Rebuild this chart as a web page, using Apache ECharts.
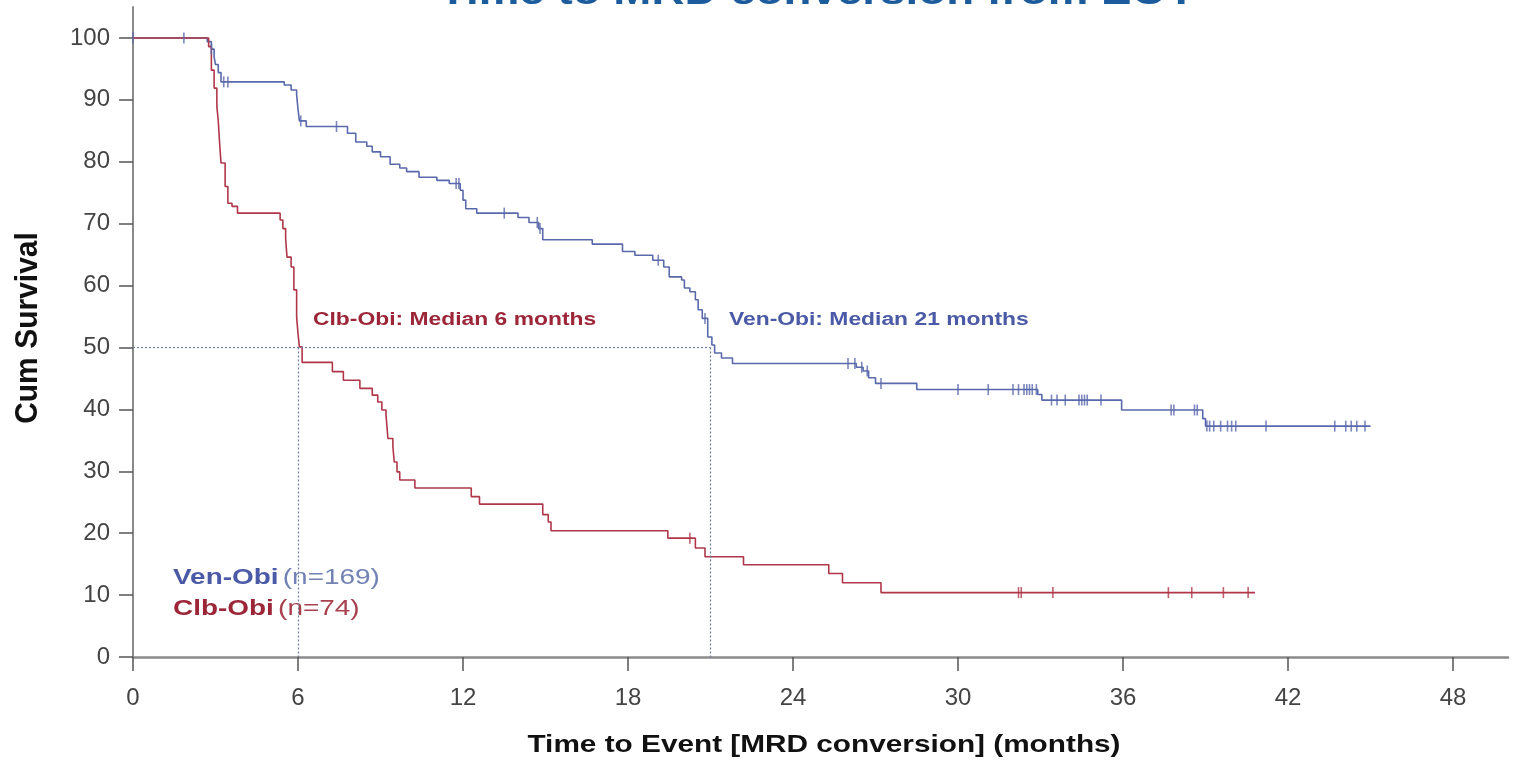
<!DOCTYPE html>
<html>
<head>
<meta charset="utf-8">
<script src="https://cdn.jsdelivr.net/npm/echarts@6/dist/echarts.min.js"></script>
<style>
  html, body { margin: 0; padding: 0; background: #ffffff; }
  #chart { width: 1515px; height: 768px; }
</style>
</head>
<body>
<div id="chart"></div>
<script>
// Kaplan-Meier steps: [month, cumulative survival %] (value holds from that month on)
const venSteps = [
  [0, 100], [2.7, 99.4], [2.85, 98.2], [2.95, 96.9], [3.0, 95.7], [3.1, 94.4], [3.2, 92.9],
  [5.5, 92.4], [5.75, 91.6], [5.95, 90.8], [6.0, 88.5], [6.05, 86.6], [6.3, 85.7],
  [7.8, 84.6], [8.1, 83.2], [8.5, 82.5], [8.7, 81.6], [9.0, 80.8], [9.35, 79.6], [9.7, 79.0],
  [9.95, 78.4], [10.4, 77.5], [11.05, 77.0], [11.5, 76.5], [11.9, 75.4], [12.0, 73.8],
  [12.1, 72.4], [12.5, 71.7], [14.0, 71.0], [14.4, 70.2], [14.75, 69.2], [14.9, 67.4],
  [16.7, 66.7], [17.8, 65.5], [18.25, 64.9], [18.9, 64.1], [19.3, 63.0], [19.5, 61.4],
  [19.95, 60.9], [20.05, 59.6], [20.25, 59.0], [20.45, 57.7], [20.55, 56.1], [20.7, 54.7],
  [20.9, 51.7], [21.05, 50.4], [21.15, 49.1], [21.4, 48.3], [21.8, 47.4],
  [26.3, 46.8], [26.55, 46.2], [26.75, 45.1], [27.0, 44.2], [28.5, 43.2],
  [32.9, 42.4], [33.05, 41.5], [35.95, 39.9], [38.9, 38.5], [39.0, 37.3], [45.0, 37.3]
];
const clbSteps = [
  [0, 100], [2.75, 98.6], [2.85, 94.8], [2.95, 91.9], [3.05, 88.9], [3.1, 86.6], [3.15, 83.0],
  [3.2, 79.8], [3.35, 76.0], [3.45, 73.3], [3.6, 72.8], [3.8, 71.7],
  [5.35, 70.6], [5.45, 69.2], [5.55, 67.6], [5.6, 64.6], [5.75, 63.0], [5.85, 59.3],
  [5.95, 54.9], [6.0, 52.3], [6.05, 50.1], [6.15, 47.6],
  [7.25, 46.1], [7.65, 44.7], [8.25, 43.4], [8.7, 42.3], [8.9, 41.2], [9.05, 39.9],
  [9.2, 39.1], [9.27, 35.3], [9.45, 34.0], [9.5, 31.5], [9.6, 29.9], [9.7, 28.6],
  [10.25, 27.3], [12.3, 25.9], [12.6, 24.7], [14.9, 23.0], [15.1, 21.8], [15.2, 20.4],
  [19.45, 19.2], [20.45, 17.6], [20.8, 16.2], [22.2, 14.9], [25.3, 13.5], [25.8, 12.0],
  [27.2, 10.4], [40.8, 10.4]
];

// Censoring times (months)
const venCensored = [
  0, 1.85, 2.85, 3.3, 3.45, 6.1, 7.4, 11.75, 11.85, 13.5, 14.7, 14.8, 19.1, 20.8,
  26.0, 26.25, 26.5, 26.7, 27.2, 30.0, 31.1, 32.0, 32.2, 32.4, 32.5, 32.6, 32.7, 32.85,
  33.4, 33.6, 33.9, 34.4, 34.5, 34.6, 34.7, 35.2, 37.75, 37.85, 38.6, 38.7,
  39.05, 39.15, 39.3, 39.55, 39.8, 39.95, 40.1, 41.2, 43.7, 44.1, 44.3, 44.5, 44.8
];
const clbCensored = [20.25, 32.2, 32.3, 33.45, 37.65, 38.5, 39.65, 40.55];

// Medians
const medianLevel = 50;
const venMedian = 21;
const clbMedian = 6;

// Axis ticks
const xTicks = [0, 6, 12, 18, 24, 30, 36, 42, 48];
const yTicks = [0, 10, 20, 30, 40, 50, 60, 70, 80, 90, 100];

const BLUE = '#5a69ab';
const RED = '#b0374a';
const BLUE_TXT = '#4a5aa6';
const RED_TXT = '#9c2638';
const FONT = 'Liberation Sans, Arial, sans-serif';
const WIDE = 1.27; // horizontal stretch of the slide's lettering

function valueAt(steps, t) {
  let v = steps[0][1];
  for (const [x, y] of steps) {
    if (x <= t) v = y; else break;
  }
  return v;
}
const censorPoints = (times, steps) => times.map(t => [t, valueAt(steps, t)]);

const chart = echarts.init(document.getElementById('chart'), null, { renderer: 'canvas' });

const dotted = { type: [2, 2], color: '#6f7fa0', width: 1.2 };

chart.setOption({
  animation: false,
  backgroundColor: '#ffffff',
  grid: { left: 133, right: 7, top: 7, bottom: 111 },
  xAxis: {
    type: 'value', min: 0, max: 50,
    axisLine: { show: true, onZero: false, lineStyle: { color: '#8a8a8a', width: 2.5 } },
    axisTick: { show: true, length: 14, customValues: xTicks, lineStyle: { color: '#555', width: 1.5 } },
    axisLabel: { customValues: xTicks, margin: 29, fontFamily: FONT, fontSize: 24, color: '#444' },
    splitLine: { show: false }
  },
  yAxis: {
    type: 'value', min: 0, max: 105,
    axisLine: { show: true, onZero: false, lineStyle: { color: '#8a8a8a', width: 2 } },
    axisTick: { show: true, length: 14, customValues: yTicks, lineStyle: { color: '#555', width: 1.5 } },
    axisLabel: { customValues: yTicks, margin: 23, fontFamily: FONT, fontSize: 24, color: '#444' },
    splitLine: { show: false }
  },
  series: [
    {
      name: 'Ven-Obi', type: 'line', step: 'end', data: venSteps,
      showSymbol: false, silent: true, z: 4,
      lineStyle: { color: BLUE, width: 1.6 },
      markLine: {
        silent: true, symbol: 'none', label: { show: false },
        lineStyle: dotted,
        data: [
          [{ coord: [0, medianLevel] }, { coord: [venMedian, medianLevel] }],
          [{ coord: [clbMedian, medianLevel] }, { coord: [clbMedian, 0] }],
          [{ coord: [venMedian, medianLevel] }, { coord: [venMedian, 0] }]
        ]
      }
    },
    {
      name: 'Clb-Obi', type: 'line', step: 'end', data: clbSteps,
      showSymbol: false, silent: true, z: 4,
      lineStyle: { color: RED, width: 1.6 }
    },
    {
      name: 'Ven-Obi censored', type: 'scatter', data: censorPoints(venCensored, venSteps),
      symbol: 'rect', symbolSize: [1.6, 11], silent: true, z: 5,
      itemStyle: { color: BLUE }
    },
    {
      name: 'Clb-Obi censored', type: 'scatter', data: censorPoints(clbCensored, clbSteps),
      symbol: 'rect', symbolSize: [1.6, 11], silent: true, z: 5,
      itemStyle: { color: RED }
    }
  ],
  graphic: [
    {
      // slide heading, running off the top edge
      type: 'text', x: 817, y: -6, scaleX: WIDE, silent: true,
      style: { text: 'Time to MRD conversion from EOT', fontFamily: FONT, fontWeight: 'bold', fontSize: 36, fill: '#1d5c9c', align: 'center', verticalAlign: 'middle' }
    },
    {
      type: 'text', x: 824, y: 745, scaleX: 1.24, silent: true,
      style: { text: 'Time to Event [MRD conversion] (months)', fontFamily: FONT, fontWeight: 'bold', fontSize: 24, fill: '#111', align: 'center', verticalAlign: 'middle' }
    },
    {
      type: 'text', x: 28, y: 328, rotation: Math.PI / 2, scaleY: 1.05, silent: true,
      style: { text: 'Cum Survival', fontFamily: FONT, fontWeight: 'bold', fontSize: 30, fill: '#111', align: 'center', verticalAlign: 'middle' }
    },
    {
      type: 'text', x: 313, y: 320, scaleX: WIDE, silent: true,
      style: { text: 'Clb-Obi: Median 6 months', fontFamily: FONT, fontWeight: 'bold', fontSize: 18, fill: RED_TXT, verticalAlign: 'middle' }
    },
    {
      type: 'text', x: 729, y: 320, scaleX: WIDE, silent: true,
      style: { text: 'Ven-Obi: Median 21 months', fontFamily: FONT, fontWeight: 'bold', fontSize: 18, fill: BLUE_TXT, verticalAlign: 'middle' }
    },
    {
      type: 'text', x: 173, y: 578, scaleX: WIDE, silent: true,
      style: {
        text: '{b|Ven-Obi} {n|(n=169)}', verticalAlign: 'middle',
        rich: {
          b: { fontFamily: FONT, fontWeight: 'bold', fontSize: 22, fill: BLUE_TXT },
          n: { fontFamily: FONT, fontSize: 22, fill: '#7282b4' }
        }
      }
    },
    {
      type: 'text', x: 173, y: 609, scaleX: WIDE, silent: true,
      style: {
        text: '{b|Clb-Obi} {n|(n=74)}', verticalAlign: 'middle',
        rich: {
          b: { fontFamily: FONT, fontWeight: 'bold', fontSize: 22, fill: RED_TXT },
          n: { fontFamily: FONT, fontSize: 22, fill: '#a8404e' }
        }
      }
    }
  ]
});
</script>
</body>
</html>
